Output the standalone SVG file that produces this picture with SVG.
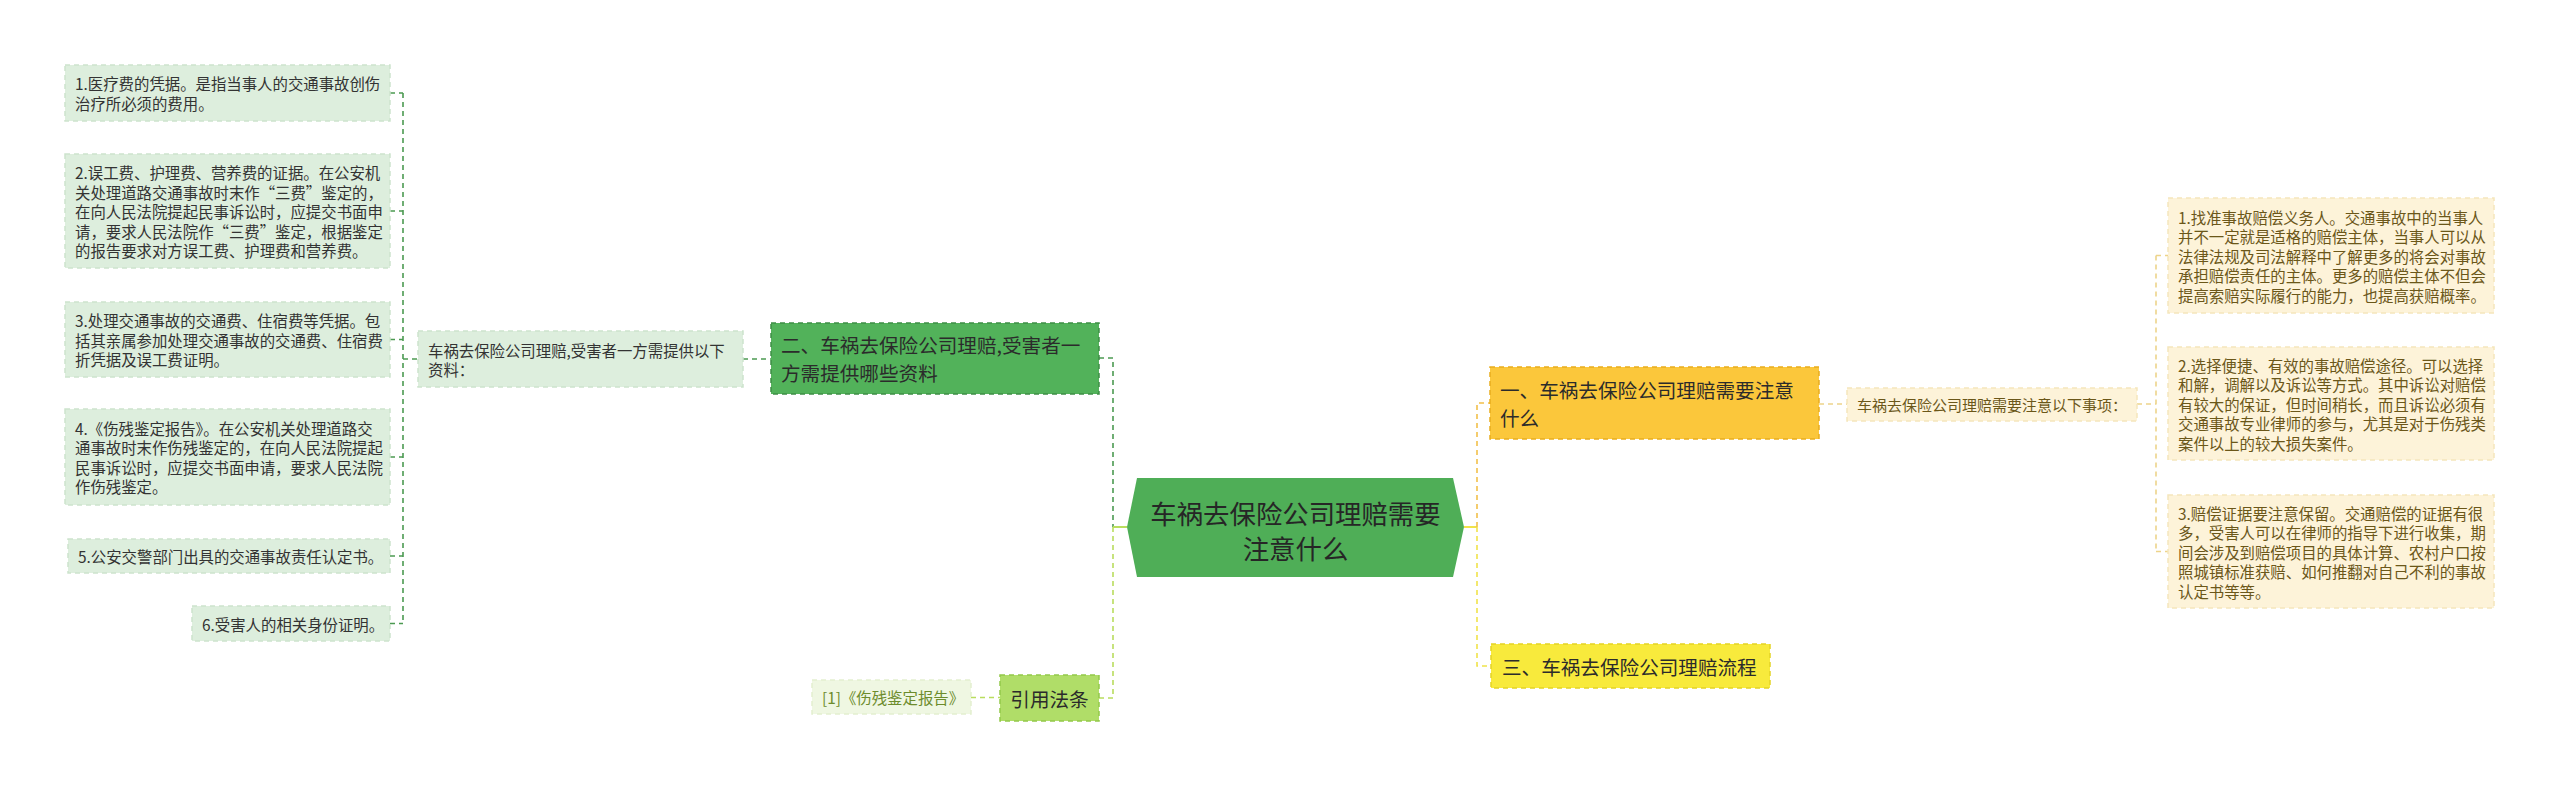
<svg xmlns="http://www.w3.org/2000/svg" width="2560" height="787" viewBox="0 0 2560 787">
<style>
text{font-family:"Noto Sans CJK SC","Noto Sans",sans-serif;dominant-baseline:central}
.s{font-size:15.4px}
.m{font-size:19.6px;fill:#2b2b2b}
.lg{fill:#ddeedd;stroke:#cde4cd;stroke-width:1.5;stroke-dasharray:5 4}
.lt{fill:#333333}
.cr{fill:#fdf3d9;stroke:#f5e6bc;stroke-width:1.5;stroke-dasharray:5 4}
.ct{fill:#6b5719}
.c{fill:none;stroke-width:1.6;stroke-dasharray:5 4}
.cg{stroke:#4c9a52}
.cy{stroke:#b9dd5e}
.co{stroke:#f2c04a}
.cl{stroke:#f0e34a}
.cp{stroke:#edd48a}
</style>
<rect width="2560" height="787" fill="#ffffff"/>
<g id="connectors">
  <path class="c cg" d="M390,93H403M390,211H403M390,339.5H403M390,457H403M390,556H403M390,623.5H403M403,93V623.5M403,359H418"/>
  <path class="c cg" d="M743,359H771"/>
  <path class="c cg" d="M1099,358H1113V527"/>
  <path class="c cy" d="M1113,527V698H1099"/>
  <path fill="none" stroke="#b9dd5e" stroke-width="2" d="M1113,527H1127"/>
  <path class="c cy" d="M971,697.5H1000"/>
  <path fill="none" stroke="#f0e34a" stroke-width="2" d="M1464,527H1477"/>
  <path class="c co" d="M1477,527V403H1490"/>
  <path class="c cl" d="M1477,527V666H1491"/>
  <path class="c cp" d="M1819,404H1847M2137,404H2156M2156,255.5V551.5M2156,255.5H2168M2156,551.5H2168"/>
</g>
<g id="center">
  <polygon points="1127,527 1137,478 1453,478 1464,527 1453,577 1137,577" fill="#4fae57"/>
  <text x="1295.5" y="512" font-size="26.4" fill="#262626" text-anchor="middle">车祸去保险公司理赔需要</text>
  <text x="1295.5" y="547" font-size="26.4" fill="#262626" text-anchor="middle">注意什么</text>
</g>
<g id="branch-2">
  <rect x="771" y="323" width="328" height="71" fill="#52b25a" stroke="#3e8e46" stroke-width="1.5" stroke-dasharray="5 4"/>
  <text class="m" x="781" y="344.5">二、车祸去保险公司理赔,受害者一</text>
  <text class="m" x="781" y="372.5">方需提供哪些资料</text>
</g>
<g id="branch-2-summary">
  <rect class="lg" x="418" y="331" width="325" height="56"/>
  <text class="s lt" x="428" y="349.5">车祸去保险公司理赔,受害者一方需提供以下</text>
  <text class="s lt" x="428" y="369">资料：</text>
</g>
<g id="left-1">
  <rect class="lg" x="65" y="65" width="325" height="56"/>
  <text class="s lt" x="75" y="83.3">1.医疗费的凭据。是指当事人的交通事故创伤</text>
  <text class="s lt" x="75" y="102.8">治疗所必须的费用。</text>
</g>
<g id="left-2">
  <rect class="lg" x="65" y="154" width="325" height="114"/>
  <text class="s lt" x="75" y="172">2.误工费、护理费、营养费的证据。在公安机</text>
  <text class="s lt" x="75" y="191.5">关处理道路交通事故时末作“三费”鉴定的，</text>
  <text class="s lt" x="75" y="211">在向人民法院提起民事诉讼时，应提交书面申</text>
  <text class="s lt" x="75" y="230.5">请，要求人民法院作“三费”鉴定，根据鉴定</text>
  <text class="s lt" x="75" y="250">的报告要求对方误工费、护理费和营养费。</text>
</g>
<g id="left-3">
  <rect class="lg" x="65" y="302" width="325" height="75"/>
  <text class="s lt" x="75" y="320">3.处理交通事故的交通费、住宿费等凭据。包</text>
  <text class="s lt" x="75" y="339.5">括其亲属参加处理交通事故的交通费、住宿费</text>
  <text class="s lt" x="75" y="359">折凭据及误工费证明。</text>
</g>
<g id="left-4">
  <rect class="lg" x="65" y="409" width="325" height="96"/>
  <text class="s lt" x="75" y="427.75">4.《伤残鉴定报告》。在公安机关处理道路交</text>
  <text class="s lt" x="75" y="447.25">通事故时末作伤残鉴定的，在向人民法院提起</text>
  <text class="s lt" x="75" y="466.75">民事诉讼时，应提交书面申请，要求人民法院</text>
  <text class="s lt" x="75" y="486.25">作伤残鉴定。</text>
</g>
<g id="left-5">
  <rect class="lg" x="68" y="539" width="322" height="34"/>
  <text class="s lt" x="78" y="556">5.公安交警部门出具的交通事故责任认定书。</text>
</g>
<g id="left-6">
  <rect class="lg" x="192" y="606" width="198" height="35"/>
  <text class="s lt" x="202" y="623.5">6.受害人的相关身份证明。</text>
</g>
<g id="cite">
  <rect x="1000" y="675" width="99" height="46" fill="#b0dd68" stroke="#93c94a" stroke-width="1.5" stroke-dasharray="5 4"/>
  <text class="m" x="1049.5" y="698" text-anchor="middle">引用法条</text>
</g>
<g id="cite-1">
  <rect x="812" y="680" width="159" height="34" fill="#eff7e2" stroke="#e3f0cf" stroke-width="1.5" stroke-dasharray="5 4"/>
  <text class="s" x="822" y="697" fill="#6d8c2c">[1]《伤残鉴定报告》</text>
</g>
<g id="branch-1">
  <rect x="1490" y="367" width="329" height="72" fill="#fbc73b" stroke="#e9ad1e" stroke-width="1.5" stroke-dasharray="5 4"/>
  <text class="m" x="1500" y="389">一、车祸去保险公司理赔需要注意</text>
  <text class="m" x="1500" y="417">什么</text>
</g>
<g id="branch-3">
  <rect x="1491" y="644" width="279" height="44" fill="#f8ea3c" stroke="#e3d324" stroke-width="1.5" stroke-dasharray="5 4"/>
  <text class="m" x="1502" y="666">三、车祸去保险公司理赔流程</text>
</g>
<g id="branch-1-summary">
  <rect class="cr" x="1847" y="388" width="290" height="33"/>
  <text class="ct" x="1857" y="404.5" font-size="15">车祸去保险公司理赔需要注意以下事项：</text>
</g>
<g id="right-1">
  <rect class="cr" x="2168" y="198" width="326" height="115"/>
  <text class="s ct" x="2178" y="216.5">1.找准事故赔偿义务人。交通事故中的当事人</text>
  <text class="s ct" x="2178" y="236">并不一定就是适格的赔偿主体，当事人可以从</text>
  <text class="s ct" x="2178" y="255.5">法律法规及司法解释中了解更多的将会对事故</text>
  <text class="s ct" x="2178" y="275">承担赔偿责任的主体。更多的赔偿主体不但会</text>
  <text class="s ct" x="2178" y="294.5">提高索赔实际履行的能力，也提高获赔概率。</text>
</g>
<g id="right-2">
  <rect class="cr" x="2168" y="347" width="326" height="113"/>
  <text class="s ct" x="2178" y="364.5">2.选择便捷、有效的事故赔偿途径。可以选择</text>
  <text class="s ct" x="2178" y="384">和解，调解以及诉讼等方式。其中诉讼对赔偿</text>
  <text class="s ct" x="2178" y="403.5">有较大的保证，但时间稍长，而且诉讼必须有</text>
  <text class="s ct" x="2178" y="423">交通事故专业律师的参与，尤其是对于伤残类</text>
  <text class="s ct" x="2178" y="442.5">案件以上的较大损失案件。</text>
</g>
<g id="right-3">
  <rect class="cr" x="2168" y="495" width="326" height="113"/>
  <text class="s ct" x="2178" y="512.5">3.赔偿证据要注意保留。交通赔偿的证据有很</text>
  <text class="s ct" x="2178" y="532">多，受害人可以在律师的指导下进行收集，期</text>
  <text class="s ct" x="2178" y="551.5">间会涉及到赔偿项目的具体计算、农村户口按</text>
  <text class="s ct" x="2178" y="571">照城镇标准获赔、如何推翻对自己不利的事故</text>
  <text class="s ct" x="2178" y="590.5">认定书等等。</text>
</g>
</svg>
